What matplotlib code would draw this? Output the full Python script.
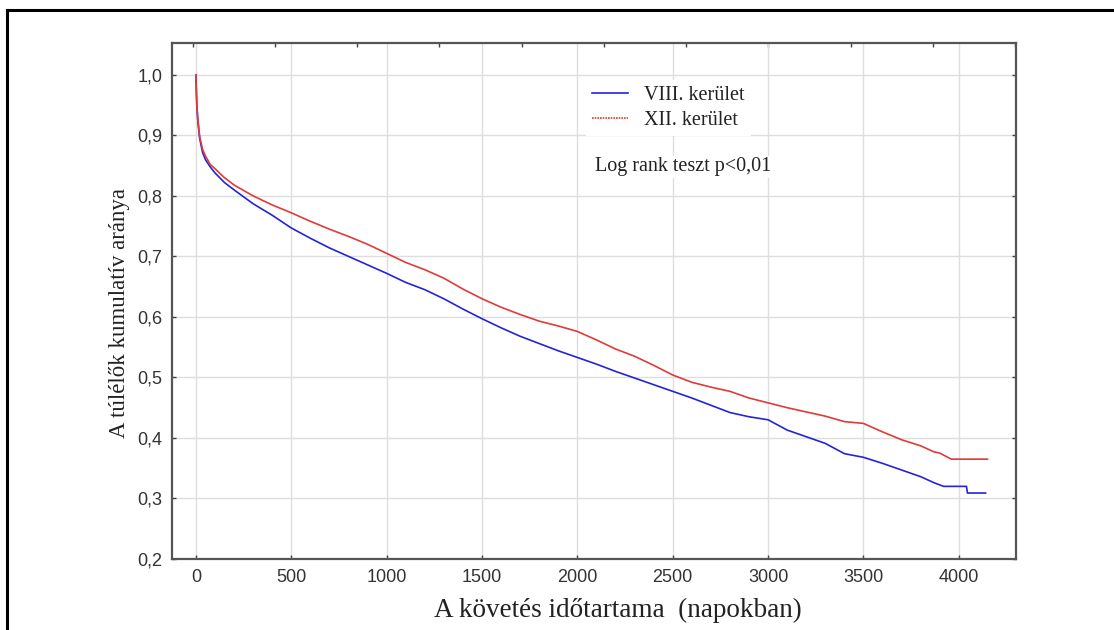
import numpy as np
import matplotlib
matplotlib.use("Agg")
import matplotlib.pyplot as plt
from matplotlib.lines import Line2D

# Kaplan-Meier curves
days_viii = [0, 5, 10, 20, 35, 50, 75, 100, 150, 200, 300, 400, 500, 600, 700, 800, 900,
             1000, 1100, 1200, 1300, 1400, 1500, 1600, 1700, 1800, 1900, 2000, 2100, 2200,
             2300, 2400, 2500, 2600, 2700, 2800, 2900, 3000, 3100, 3200, 3300, 3400, 3500,
             3600, 3700, 3800, 3870, 3920, 4040, 4045, 4140]
surv_viii = [1.0, 0.95, 0.925, 0.895, 0.872, 0.86, 0.848, 0.838, 0.822, 0.81, 0.787, 0.768,
             0.747, 0.73, 0.714, 0.70, 0.686, 0.672, 0.657, 0.645, 0.63, 0.613, 0.597, 0.582,
             0.568, 0.556, 0.544, 0.533, 0.522, 0.51, 0.499, 0.488, 0.477, 0.466, 0.454,
             0.442, 0.435, 0.430, 0.413, 0.402, 0.391, 0.374, 0.368, 0.358, 0.347, 0.336,
             0.326, 0.32, 0.32, 0.309, 0.309]

days_xii = [0, 5, 10, 20, 35, 50, 75, 100, 150, 200, 300, 400, 500, 600, 700, 800, 900,
            1000, 1100, 1200, 1300, 1400, 1500, 1600, 1700, 1800, 1900, 2000, 2100, 2200,
            2300, 2400, 2500, 2600, 2700, 2800, 2900, 3000, 3100, 3200, 3300, 3400, 3500,
            3600, 3700, 3800, 3870, 3900, 3960, 4150]
surv_xii = [1.0, 0.95, 0.928, 0.898, 0.877, 0.866, 0.852, 0.845, 0.83, 0.818, 0.80, 0.785,
            0.772, 0.758, 0.745, 0.733, 0.72, 0.705, 0.69, 0.678, 0.664, 0.646, 0.63, 0.616,
            0.604, 0.593, 0.585, 0.576, 0.562, 0.547, 0.535, 0.52, 0.504, 0.492, 0.484,
            0.477, 0.466, 0.458, 0.450, 0.443, 0.436, 0.427, 0.424, 0.41, 0.397, 0.387,
            0.377, 0.375, 0.365, 0.365]

series_labels = ["VIII. kerület", "XII. kerület"]
x_ticks = [0, 500, 1000, 1500, 2000, 2500, 3000, 3500, 4000]
y_ticks = [0.2, 0.3, 0.4, 0.5, 0.6, 0.7, 0.8, 0.9, 1.0]
y_ticklabels = ["0,2", "0,3", "0,4", "0,5", "0,6", "0,7", "0,8", "0,9", "1,0"]

serif = "Liberation Serif"
sans = "Liberation Sans"
blue = "#2424d6"
red = "#e03a3a"

fig = plt.figure(figsize=(11.14, 6.3), dpi=100)
ax = fig.add_axes([0.1544, 0.1127, 0.7577, 0.8195])

ax.plot(days_viii, surv_viii, color=blue, lw=1.2, zorder=3)
ax.plot(days_xii, surv_xii, color=red, lw=1.2, zorder=3)

ax.set_xlim(-125, 4300)
ax.set_ylim(0.2, 1.053)
ax.set_xticks(x_ticks)
ax.set_xticklabels([str(t) for t in x_ticks], fontfamily=sans, fontsize=13, color="#333333")
ax.set_yticks(y_ticks)
ax.set_yticklabels(y_ticklabels, fontfamily=sans, fontsize=13, color="#333333")
ax.tick_params(direction="in", length=3, width=1, color="#444444", right=True,
               pad=7)
ax.grid(True, color="#dedede", lw=1, zorder=0)
for s in ax.spines.values():
    s.set_color("#555555")
    s.set_linewidth(1.6)

# top axis ticks (separate scale in the original)
top = ax.secondary_xaxis("top")
top.set_xticks(np.arange(-16, 4300, 431))
top.set_xticklabels([])
top.tick_params(direction="in", length=3, width=1, color="#444444")
top.spines["top"].set_visible(False)

ax.set_xlabel("A követés időtartama  (napokban)", fontfamily=serif, fontsize=19.5,
              color="#222222")
ax.xaxis.set_label_coords(0.528, -0.075)
ax.set_ylabel("A túlélők kumulatív aránya", fontfamily=serif, fontsize=16.5,
              color="#222222")
ax.yaxis.set_label_coords(-0.05, 0.477)

handles = [Line2D([], [], color=blue, lw=1.2),
           Line2D([], [], color=red, lw=1.2, ls=(0, (1, 0.6)))]
leg = ax.legend(handles, series_labels, loc="upper left", bbox_to_anchor=(0.49, 0.928),
                prop={"family": serif, "size": 14.5}, frameon=True, fancybox=False,
                facecolor="white", edgecolor="none", framealpha=1, handlelength=1.8,
                handletextpad=0.8, labelspacing=0.3, borderpad=0.3, borderaxespad=0)
for t in leg.get_texts():
    t.set_color("#222222")

ax.text(0.501, 0.76, "Log rank teszt p<0,01", transform=ax.transAxes, ha="left",
        va="center", fontfamily=serif, fontsize=14.5, color="#222222",
        bbox=dict(facecolor="white", edgecolor="none", pad=1))

# outer frame (top and left edges visible)
fig.add_artist(Line2D([7 / 1114, 1.0], [1 - 10 / 630, 1 - 10 / 630],
                      transform=fig.transFigure, color="black", lw=2.2))
fig.add_artist(Line2D([7 / 1114, 7 / 1114], [0.0, 1 - 10 / 630],
                      transform=fig.transFigure, color="black", lw=2.2))

fig.savefig("out.png", dpi=100)
